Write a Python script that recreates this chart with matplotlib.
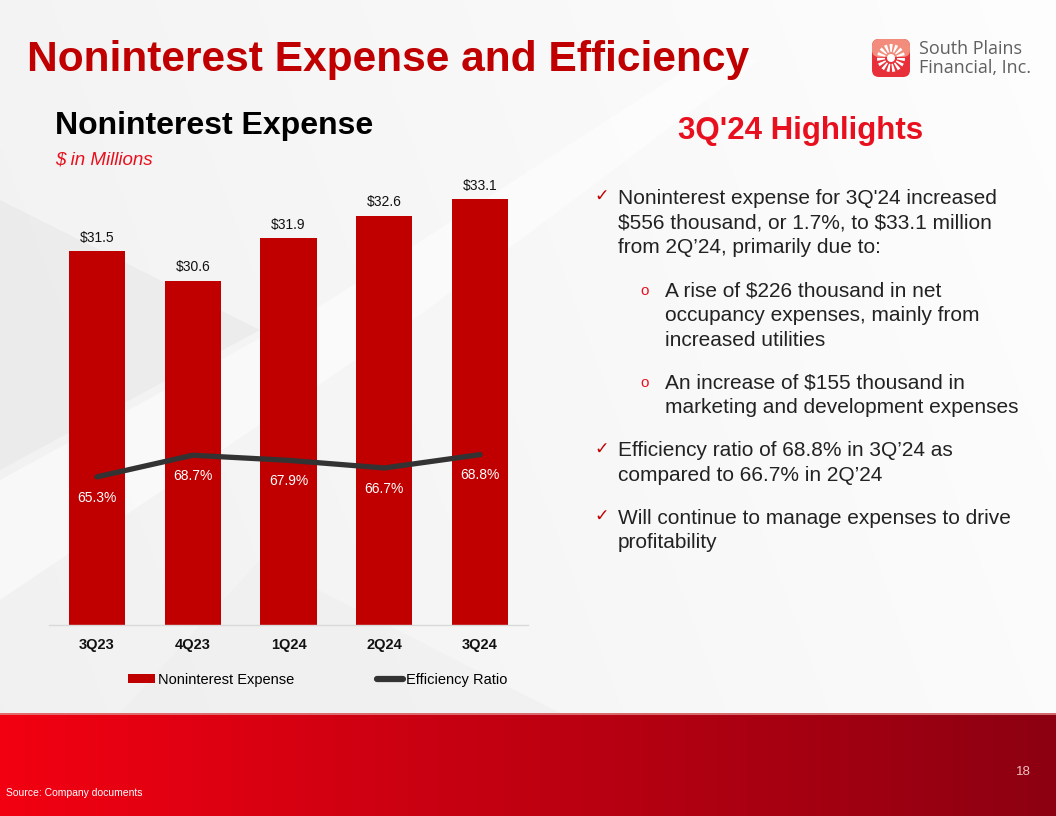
import numpy as np
import matplotlib
matplotlib.use("Agg")
import matplotlib.pyplot as plt
from matplotlib.patches import Rectangle, FancyBboxPatch, Wedge, Polygon
from matplotlib.lines import Line2D

plt.rcParams['font.family'] = ['Liberation Sans', 'DejaVu Sans']
plt.rcParams['text.parse_math'] = False

# data
quarters = ["3Q23", "4Q23", "1Q24", "2Q24", "3Q24"]
expense = [31.5, 30.6, 31.9, 32.6, 33.1]          # $ millions
efficiency = [65.3, 68.7, 67.9, 66.7, 68.8]       # %
expense_labels = ["$31.5", "$30.6", "$31.9", "$32.6", "$33.1"]
efficiency_labels = ["65.3%", "68.7%", "67.9%", "66.7%", "68.8%"]

RED_DARK = "#C00000"
RED = "#E8101E"
W, H = 1056, 816

fig = plt.figure(figsize=(W / 100, H / 100), dpi=100)

# background canvas in pixel coordinates
bg = fig.add_axes([0, 0, 1, 1])
bg.set_xlim(0, W)
bg.set_ylim(H, 0)
bg.axis("off")

# light slide background
grad = np.linspace(0, 1, 256)
gx, gy = np.meshgrid(grad, grad)
shade = 0.955 + 0.04 * gx - 0.01 * gy
bg.imshow(np.dstack([shade, shade, shade]), extent=(0, W, 713, 0), aspect="auto", zorder=0)
bg.add_patch(Polygon([[0, 200], [260, 330], [0, 470]], closed=True, color="#e6e6e6", alpha=0.5, zorder=1, lw=0))
bg.add_patch(Polygon([[0, 480], [330, 300], [700, 60], [760, 60], [400, 330], [0, 600]], closed=True,
                     color="#ffffff", alpha=0.5, zorder=1, lw=0))
bg.add_patch(Polygon([[120, 713], [260, 560], [560, 713]], closed=True, color="#eeeeee", alpha=0.5, zorder=1, lw=0))

# red footer band
band = np.linspace(0, 1, 256)[None, :]
r = 0.95 - 0.40 * band
b = 0.07 + 0.0 * band
bg.imshow(np.dstack([r, np.zeros_like(r), b]), extent=(0, W, H, 713), aspect="auto", zorder=1)
bg.plot([0, W], [713.5, 713.5], color="#e08080", lw=1.2, zorder=2)

# titles
bg.text(27, 60, "Noninterest Expense and Efficiency", color=RED_DARK, fontsize=30.6,
        fontweight="bold", va="center", ha="left", zorder=3)
bg.text(55, 126, "Noninterest Expense", color="black", fontsize=23,
        fontweight="bold", va="center", ha="left", zorder=3)
bg.text(55, 160, "$ in Millions", color=RED, fontsize=13.5, style="italic",
        va="center", ha="left", zorder=3)

# logo
bg.add_patch(FancyBboxPatch((872, 39), 38, 38, boxstyle="round,pad=0,rounding_size=7",
                            fc="#E8303A", ec="none", zorder=3))
bg.add_patch(FancyBboxPatch((872, 39), 38, 18, boxstyle="round,pad=0,rounding_size=7",
                            fc="#F28C7C", ec="none", zorder=3))
for ang in range(0, 360, 24):
    bg.add_patch(Wedge((891, 58), 14, ang, ang + 13, width=8, fc="white", ec="none", zorder=4))
bg.add_patch(Wedge((891, 58), 4, 0, 360, fc="white", ec="none", zorder=4))
bg.text(919, 49, "South Plains", color="#606060", fontsize=13, va="center", ha="left",
        family=["Open Sans", "DejaVu Sans"], zorder=3)
bg.text(919, 68, "Financial, Inc.", color="#606060", fontsize=13, va="center", ha="left",
        family=["Open Sans", "DejaVu Sans"], zorder=3)

# highlights text
bg.text(801, 131, "3Q'24 Highlights", color=RED, fontsize=22.5, fontweight="bold",
        va="center", ha="center", zorder=3)

TXT = 15
check_lines = [
    (198, ["Noninterest expense for 3Q'24 increased",
           "$556 thousand, or 1.7%, to $33.1 million",
           "from 2Q\u201924, primarily due to:"]),
    (451, ["Efficiency ratio of 68.8% in 3Q\u201924 as",
           "compared to 66.7% in 2Q\u201924"]),
    (518, ["Will continue to manage expenses to drive",
           "profitability"]),
]
sub_lines = [
    (291, ["A rise of $226 thousand in net",
           "occupancy expenses, mainly from",
           "increased utilities"]),
    (383, ["An increase of $155 thousand in",
           "marketing and development expenses"]),
]
step = 24.7
for y0, lines in check_lines:
    bg.text(594, y0 - 2, "\u2713", color=RED_DARK, fontsize=12.5, va="center", ha="left",
            family=["DejaVu Sans"], zorder=3)
    for i, ln in enumerate(lines):
        bg.text(618, y0 + i * step, ln, color="#222222", fontsize=TXT, va="center", ha="left", zorder=3)
for y0, lines in sub_lines:
    bg.text(640, y0, "o", color=RED, fontsize=11, va="center", ha="left", zorder=3)
    for i, ln in enumerate(lines):
        bg.text(665, y0 + i * step, ln, color="#222222", fontsize=TXT, va="center", ha="left", zorder=3)

# footer text
bg.text(6, 793, "Source: Company documents", color="white", fontsize=7.5, va="center", ha="left", zorder=3)
bg.text(1031, 772, "18", color="#f0c0c0", fontsize=9.5, va="center", ha="right", zorder=3)

# chart
ax = fig.add_axes([49 / W, (H - 625) / H, 479 / W, 445 / H])
ax.patch.set_alpha(0)
x = np.arange(len(quarters))
bars = ax.bar(x, expense, width=0.585, color=RED_DARK, zorder=2)
ax.set_xlim(-0.5, len(quarters) - 0.5)
ax.set_ylim(20, 33.7)
for xi, v, lab in zip(x, expense, expense_labels):
    ax.annotate(lab, (xi, v), xytext=(0, 5), textcoords="offset points",
                ha="center", va="bottom", fontsize=10, color="#111111")
ax.set_xticks(x)
ax.set_xticklabels(quarters, fontsize=10.5, fontweight="bold", color="#111111")
ax.tick_params(axis="x", length=0, pad=9)
ax.set_yticks([])
for s in ["top", "right", "left"]:
    ax.spines[s].set_visible(False)
ax.spines["bottom"].set_color("#d9d9d9")
ax.spines["bottom"].set_linewidth(1)

ax2 = ax.twinx()
ax2.set_ylim(42, 112)
ax2.plot(x, efficiency, color="#333333", lw=3.8, solid_capstyle="round", zorder=3)
for xi, v, lab in zip(x, efficiency, efficiency_labels):
    ax2.annotate(lab, (xi, v), xytext=(0, -15), textcoords="offset points",
                 ha="center", va="center", fontsize=10, color="white")
ax2.set_yticks([])
ax2.axis("off")

# legend
handles = [Rectangle((0, 0), 1, 1, fc=RED_DARK, ec="none"),
           Line2D([0], [0], color="#333333", lw=4.5, solid_capstyle="round")]
fig.legend(handles, ["Noninterest Expense", "Efficiency Ratio"], ncol=2, frameon=False,
           loc="center", bbox_to_anchor=(318 / W, 1 - 680 / H), fontsize=10.5,
           handlelength=1.8, handleheight=0.6, handletextpad=0.2, columnspacing=5.7)

fig.savefig("out.png", dpi=100)
